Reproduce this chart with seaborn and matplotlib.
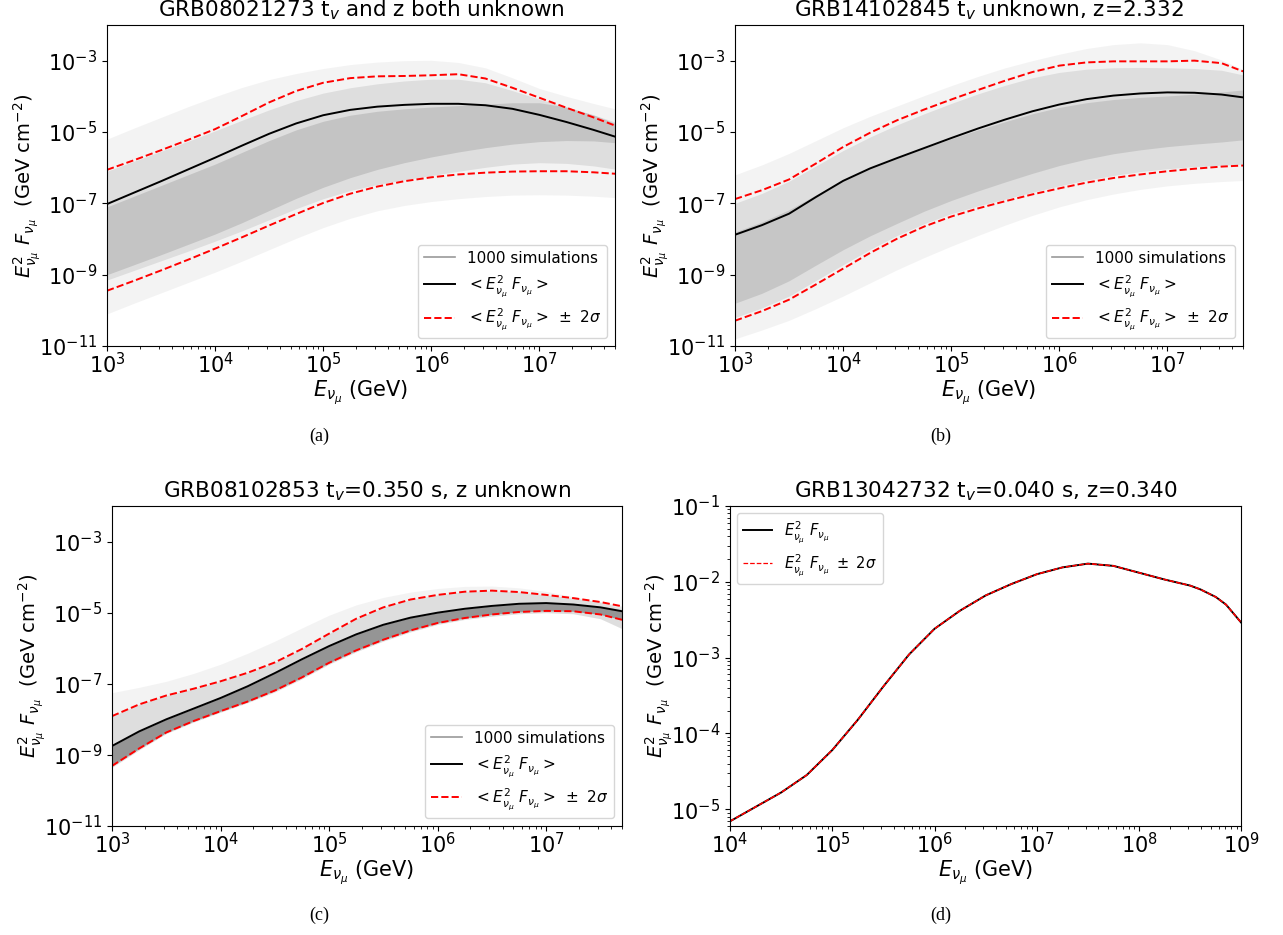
import numpy as np
import matplotlib.pyplot as plt
import seaborn as sns
from matplotlib.lines import Line2D
from matplotlib.ticker import NullLocator, LogLocator

# log10(E / GeV) grid shared by panels (a)-(c)
logE = [3.0, 3.25, 3.5, 3.75, 4.0, 4.25, 4.5, 4.75, 5.0, 5.25,
        5.5, 5.75, 6.0, 6.25, 6.5, 6.75, 7.0, 7.25, 7.5, 7.7]

# panel (a): log10 of E^2 F  (mean, +2 sigma, -2 sigma, spread of the simulations)
a_mean = [-7.02, -6.70, -6.38, -6.05, -5.72, -5.38, -5.05, -4.76, -4.53, -4.38,
          -4.29, -4.24, -4.21, -4.21, -4.25, -4.35, -4.52, -4.72, -4.94, -5.13]
a_up = [-6.06, -5.79, -5.51, -5.22, -4.92, -4.55, -4.17, -3.85, -3.62, -3.49,
        -3.44, -3.43, -3.41, -3.38, -3.50, -3.76, -4.04, -4.32, -4.59, -4.82]
a_lo = [-9.45, -9.17, -8.88, -8.58, -8.27, -7.95, -7.62, -7.30, -6.99, -6.73,
        -6.53, -6.38, -6.27, -6.19, -6.14, -6.11, -6.10, -6.10, -6.13, -6.17]
a_env_hi = [-5.20, -4.89, -4.59, -4.29, -4.01, -3.75, -3.53, -3.36, -3.22, -3.11,
            -3.04, -3.00, -2.99, -3.05, -3.20, -3.48, -3.78, -4.00, -4.20, -4.35]
a_env_lo = [-10.1, -9.80, -9.51, -9.22, -8.93, -8.62, -8.30, -7.98, -7.68, -7.42,
            -7.21, -7.06, -6.95, -6.87, -6.81, -6.77, -6.76, -6.77, -6.80, -6.84]
a_mid_hi = [-6.10, -5.82, -5.54, -5.26, -4.97, -4.67, -4.38, -4.12, -3.91, -3.76,
            -3.65, -3.57, -3.52, -3.52, -3.62, -3.84, -4.08, -4.30, -4.52, -4.72]
a_mid_lo = [-9.15, -8.88, -8.61, -8.34, -8.06, -7.77, -7.46, -7.15, -6.87, -6.64,
            -6.47, -6.34, -6.22, -6.10, -5.99, -5.90, -5.86, -5.88, -5.95, -6.04]
a_core_hi = [-7.10, -6.80, -6.50, -6.20, -5.90, -5.57, -5.24, -4.94, -4.70, -4.53,
             -4.42, -4.35, -4.30, -4.26, -4.22, -4.18, -4.18, -4.30, -4.52, -4.76]
a_core_lo = [-9.00, -8.72, -8.44, -8.15, -7.86, -7.54, -7.20, -6.86, -6.55, -6.28,
             -6.05, -5.86, -5.70, -5.56, -5.44, -5.34, -5.27, -5.24, -5.25, -5.30]

# panel (b)
b_mean = [-7.88, -7.61, -7.29, -6.82, -6.37, -6.02, -5.73, -5.45, -5.17, -4.90,
          -4.65, -4.42, -4.23, -4.08, -3.98, -3.92, -3.89, -3.90, -3.95, -4.03]
b_up = [-6.88, -6.63, -6.33, -5.88, -5.42, -5.02, -4.67, -4.37, -4.09, -3.82,
        -3.56, -3.32, -3.14, -3.05, -3.02, -3.02, -3.02, -3.00, -3.07, -3.30]
b_lo = [-10.29, -10.02, -9.70, -9.27, -8.83, -8.39, -7.99, -7.65, -7.37, -7.14,
        -6.94, -6.75, -6.58, -6.42, -6.29, -6.19, -6.10, -6.03, -5.97, -5.94]
b_env_hi = [-6.20, -5.92, -5.60, -5.24, -4.88, -4.56, -4.27, -3.98, -3.70, -3.44,
            -3.20, -3.00, -2.82, -2.66, -2.55, -2.50, -2.55, -2.72, -2.98, -3.25]
b_env_lo = [-10.8, -10.55, -10.28, -9.95, -9.60, -9.23, -8.86, -8.52, -8.20, -7.90,
            -7.61, -7.34, -7.10, -6.90, -6.74, -6.61, -6.51, -6.44, -6.39, -6.36]
b_mid_hi = [-7.00, -6.72, -6.38, -5.95, -5.52, -5.14, -4.80, -4.49, -4.20, -3.93,
            -3.69, -3.48, -3.33, -3.24, -3.20, -3.19, -3.20, -3.22, -3.27, -3.40]
b_mid_lo = [-10.2, -9.93, -9.60, -9.16, -8.72, -8.29, -7.90, -7.57, -7.29, -7.07,
            -6.88, -6.69, -6.51, -6.35, -6.22, -6.11, -6.03, -5.97, -5.93, -5.90]
b_core_hi = [-7.80, -7.52, -7.18, -6.76, -6.35, -6.00, -5.72, -5.45, -5.19, -4.94,
             -4.71, -4.49, -4.31, -4.18, -4.09, -4.03, -3.99, -3.94, -3.88, -3.82]
b_core_lo = [-9.80, -9.52, -9.17, -8.73, -8.30, -7.91, -7.56, -7.22, -6.92, -6.65,
             -6.40, -6.16, -5.94, -5.76, -5.61, -5.50, -5.41, -5.34, -5.28, -5.22]

# panel (c)
c_mean = [-8.75, -8.34, -8.00, -7.70, -7.40, -7.07, -6.70, -6.31, -5.94, -5.61,
          -5.34, -5.14, -5.00, -4.89, -4.81, -4.75, -4.73, -4.77, -4.85, -4.96]
c_up = [-7.91, -7.58, -7.33, -7.14, -6.93, -6.69, -6.40, -6.02, -5.59, -5.17,
        -4.85, -4.63, -4.50, -4.41, -4.38, -4.42, -4.50, -4.59, -4.70, -4.82]
c_lo = [-9.31, -8.82, -8.37, -8.05, -7.77, -7.50, -7.19, -6.82, -6.41, -6.06,
        -5.76, -5.50, -5.29, -5.15, -5.05, -4.98, -4.95, -4.96, -5.05, -5.20]
c_env_hi = [-7.25, -7.10, -6.93, -6.71, -6.45, -6.14, -5.80, -5.43, -5.07, -4.78,
            -4.57, -4.42, -4.32, -4.26, -4.25, -4.30, -4.40, -4.55, -4.70, -4.90]
c_env_lo = [-9.35, -8.86, -8.40, -8.08, -7.80, -7.53, -7.23, -6.86, -6.45, -6.10,
            -5.80, -5.54, -5.33, -5.19, -5.10, -5.03, -5.00, -5.03, -5.17, -5.45]

# panel (d): single source, log10(E) and log10(E^2 F)
d_logE = [4.0, 4.25, 4.5, 4.75, 5.0, 5.25, 5.5, 5.75, 6.0, 6.25, 6.5,
          6.75, 7.0, 7.25, 7.5, 7.75, 8.0, 8.25, 8.5, 8.6, 8.75, 8.85, 9.0]
d_flux = [-5.16, -4.97, -4.78, -4.55, -4.22, -3.82, -3.38, -2.96, -2.62, -2.38, -2.18,
          -2.03, -1.90, -1.81, -1.76, -1.79, -1.88, -1.97, -2.05, -2.10, -2.20, -2.30, -2.54]

titles = ["GRB08021273 t$_v$ and z both unknown",
          "GRB14102845 t$_v$ unknown, z=2.332",
          "GRB08102853 t$_v$=0.350 s, z unknown",
          "GRB13042732 t$_v$=0.040 s, z=0.340"]
captions = ["(a)", "(b)", "(c)", "(d)"]

ylab = r"$E^2_{\nu_\mu}\ F_{\nu_\mu}$  (GeV cm$^{-2}$)"
xlab = r"$E_{\nu_\mu}$ (GeV)"
lab_mean = r"$<E^2_{\nu_\mu}\ F_{\nu_\mu}>$"
lab_sig = r"$<E^2_{\nu_\mu}\ F_{\nu_\mu}>\ \pm\ 2\sigma$"

plt.rcParams['font.family'] = ['DejaVu Sans']
plt.rcParams['mathtext.fontset'] = 'dejavusans'

fig = plt.figure(figsize=(12.83, 9.35), dpi=100)


def p(v):
    return 10 ** np.array(v)


def style_axes(ax, title):
    ax.set_title(title, fontsize=15.5)
    ax.set_xlabel(xlab, fontsize=15, labelpad=1)
    ax.set_ylabel(ylab, fontsize=14, labelpad=-3)
    ax.tick_params(labelsize=15)
    ax.tick_params(axis='x', which='both', pad=1)


def sim_panel(ax, mean, up, lo, env, mid, core, core_alpha, title):
    E = p(logE)
    ax.fill_between(E, p(env[1]), p(env[0]), color='gray', alpha=0.09, lw=0)
    ax.fill_between(E, p(mid[1]), p(mid[0]), color='gray', alpha=0.18, lw=0)
    ax.fill_between(E, p(core[1]), p(core[0]), color='dimgray', alpha=core_alpha, lw=0)
    sns.lineplot(x=E, y=p(mean), ax=ax, color='k', lw=1.4)
    sns.lineplot(x=E, y=p(up), ax=ax, color='red', lw=1.4, linestyle='--')
    sns.lineplot(x=E, y=p(lo), ax=ax, color='red', lw=1.4, linestyle='--')
    ax.set_xscale('log')
    ax.set_yscale('log')
    ax.set_xlim(1e3, 5e7)
    ax.set_ylim(1e-11, 1e-2)
    ax.set_yticks([1e-11, 1e-9, 1e-7, 1e-5, 1e-3])
    ax.yaxis.set_minor_locator(NullLocator())
    ax.xaxis.set_minor_locator(LogLocator(base=10, subs=np.arange(2, 10)))
    handles = [Line2D([], [], color='gray', lw=1.2, alpha=0.8),
               Line2D([], [], color='k', lw=1.4),
               Line2D([], [], color='red', lw=1.4, linestyle='--')]
    ax.legend(handles, ["1000 simulations", lab_mean, lab_sig],
              loc='lower right', fontsize=11)
    style_axes(ax, title)


ax_a = fig.add_axes([0.0834, 0.6299, 0.3959, 0.3434])
sim_panel(ax_a, a_mean, a_up, a_lo, (a_env_hi, a_env_lo), (a_mid_hi, a_mid_lo),
          (a_core_hi, a_core_lo), 0.22, titles[0])

ax_b = fig.add_axes([0.5729, 0.6299, 0.3959, 0.3434])
sim_panel(ax_b, b_mean, b_up, b_lo, (b_env_hi, b_env_lo), (b_mid_hi, b_mid_lo),
          (b_core_hi, b_core_lo), 0.2, titles[1])

ax_c = fig.add_axes([0.0873, 0.1166, 0.3975, 0.3422])
sim_panel(ax_c, c_mean, c_up, c_lo, (c_env_hi, c_env_lo), (c_up, c_env_lo),
          (c_mean, c_lo), 0.62, titles[2])

ax_d = fig.add_axes([0.5690, 0.1166, 0.3985, 0.3422])
Ed = p(d_logE)
sns.lineplot(x=Ed, y=p(d_flux), ax=ax_d, color='k', lw=1.4, label=r"$E^2_{\nu_\mu}\ F_{\nu_\mu}$")
sns.lineplot(x=Ed, y=p(d_flux), ax=ax_d, color='red', lw=0.9, linestyle='--',
             label=r"$E^2_{\nu_\mu}\ F_{\nu_\mu}\ \pm\ 2\sigma$")
sns.lineplot(x=Ed, y=p(d_flux), ax=ax_d, color='red', lw=0.9, linestyle='--')
ax_d.set_xscale('log')
ax_d.set_yscale('log')
ax_d.set_xlim(1e4, 1e9)
ax_d.set_ylim(6e-6, 1e-1)
ax_d.xaxis.set_minor_locator(LogLocator(base=10, subs=np.arange(2, 10)))
ax_d.yaxis.set_minor_locator(LogLocator(base=10, subs=np.arange(2, 10)))
ax_d.legend(loc='upper left', fontsize=10.5)
style_axes(ax_d, titles[3])

cap_pos = [(0.249, 0.533), (0.733, 0.533), (0.249, 0.021), (0.733, 0.021)]
for (cx, cy), cap in zip(cap_pos, captions):
    fig.text(cx, cy, cap, ha='center', va='center', fontsize=13, family='Liberation Serif')

fig.savefig("out.png", dpi=100)
